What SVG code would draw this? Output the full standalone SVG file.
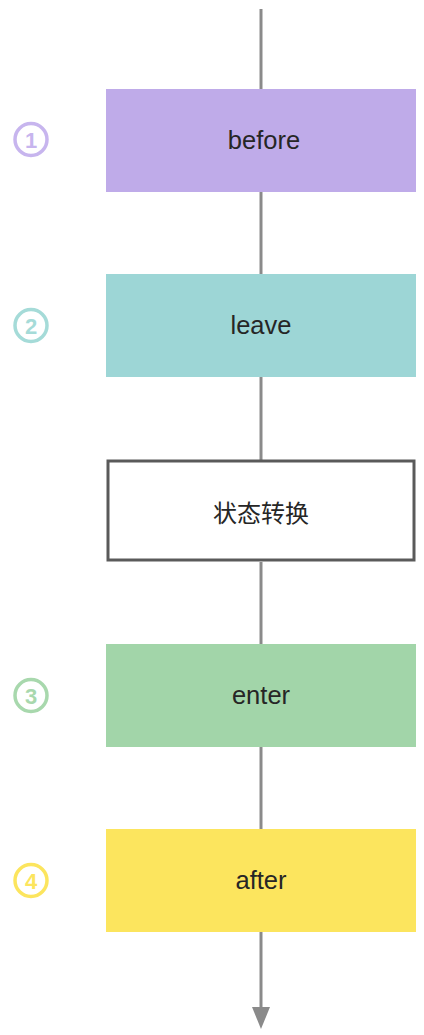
<svg xmlns="http://www.w3.org/2000/svg" width="424" height="1035" viewBox="0 0 424 1035">
<style>
.lbl{font-family:"Liberation Sans","Noto Sans CJK SC",sans-serif;font-size:25.5px;fill:#262626;text-anchor:middle;dominant-baseline:central}
.cjk{font-family:"Noto Sans CJK SC",sans-serif;font-size:24px}
.num{font-family:"Liberation Sans",sans-serif;font-size:22px;font-weight:bold;text-anchor:middle;dominant-baseline:central}
.ring{fill:none;stroke-width:3.5}
.conn{stroke:#8a8a8a;stroke-width:3;fill:none}
</style>
<rect width="424" height="1035" fill="#ffffff"/>
<g id="connectors">
<line class="conn" x1="261" y1="9" x2="261" y2="89"/>
<line class="conn" x1="261" y1="192" x2="261" y2="274"/>
<line class="conn" x1="261" y1="377" x2="261" y2="460"/>
<line class="conn" x1="261" y1="562" x2="261" y2="644"/>
<line class="conn" x1="261" y1="747" x2="261" y2="829"/>
<line class="conn" x1="261" y1="932" x2="261" y2="1008"/>
<path d="M252,1007 L270,1007 L261,1029 Z" fill="#8a8a8a"/>
</g>
<g id="before">
<rect x="106" y="89" width="310" height="103" fill="#bfabe9"/>
<text class="lbl" x="264" y="140">before</text>
</g>
<g id="num1">
<circle class="ring" cx="31" cy="139.5" r="16" stroke="#c7b5ee"/>
<text class="num" x="31" y="140.5" fill="#c7b5ee">1</text>
</g>
<g id="leave">
<rect x="106" y="274" width="310" height="103" fill="#9dd6d6"/>
<text class="lbl" x="261" y="325">leave</text>
</g>
<g id="num2">
<circle class="ring" cx="31" cy="325.5" r="16" stroke="#a5dbd8"/>
<text class="num" x="31" y="326.5" fill="#a5dbd8">2</text>
</g>
<g id="state">
<rect x="108" y="461" width="306" height="99" fill="#ffffff" stroke="#5a5a5a" stroke-width="3"/>
<text class="lbl cjk" x="261" y="511">状态转换</text>
</g>
<g id="enter">
<rect x="106" y="644" width="310" height="103" fill="#a2d5a9"/>
<text class="lbl" x="261" y="695">enter</text>
</g>
<g id="num3">
<circle class="ring" cx="31" cy="695.5" r="16" stroke="#a8d8ad"/>
<text class="num" x="31" y="696.5" fill="#a8d8ad">3</text>
</g>
<g id="after">
<rect x="106" y="829" width="310" height="103" fill="#fce55e"/>
<text class="lbl" x="261" y="880">after</text>
</g>
<g id="num4">
<circle class="ring" cx="31" cy="880.5" r="16" stroke="#fce55e"/>
<text class="num" x="31" y="881.5" fill="#fce55e">4</text>
</g>
</svg>
